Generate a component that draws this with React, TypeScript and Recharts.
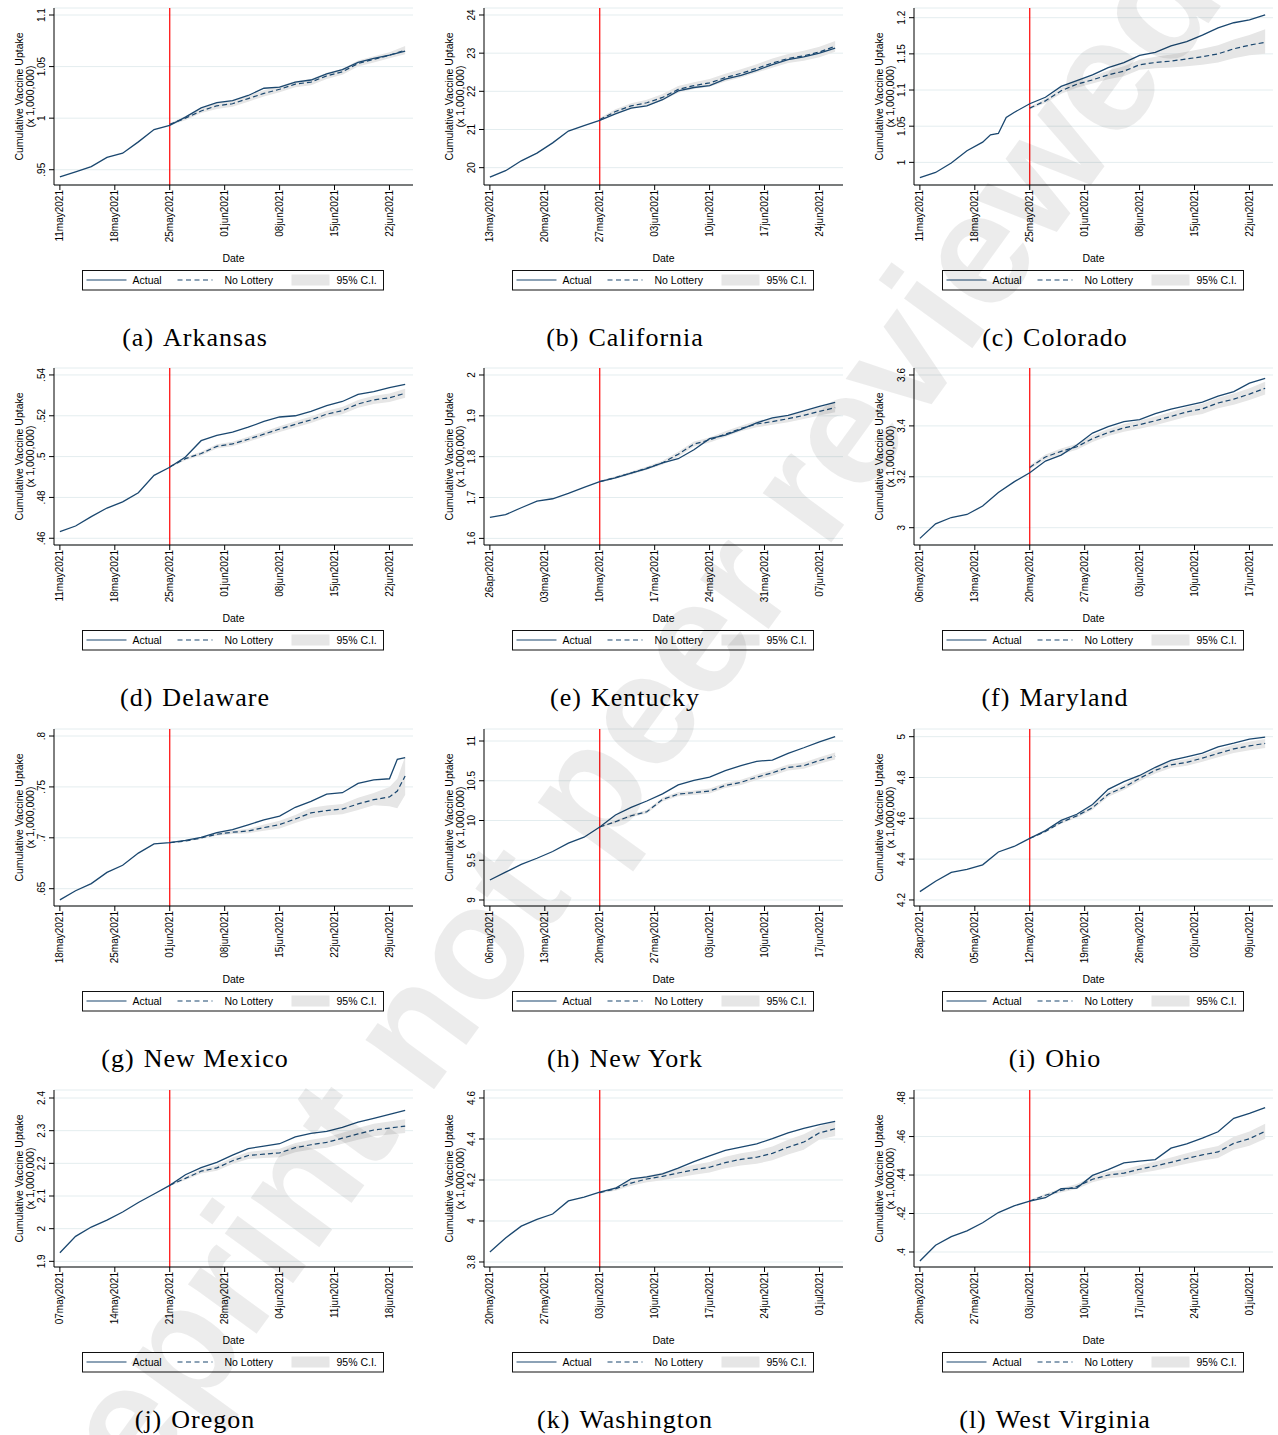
import React from 'react';
import {
  ComposedChart,
  Line,
  Area,
  XAxis,
  YAxis,
  CartesianGrid,
  ReferenceLine,
  Legend,
  Label,
} from 'recharts';

const SANS = '"Liberation Sans", Arial, Helvetica, sans-serif';
const SERIF = '"Liberation Serif", "Times New Roman", serif';
const NAVY = '#1a476f';
const CI_FILL = '#e6e6e6';
const GRID = '#e4edef';

// ---------- shared x grids (days since first date) ----------
const TICK_DAYS = [0, 7, 14, 21, 28, 35, 42];
const LOTTERY_DAY = 14;
const DAYS = [0, 2, 4, 6, 8, 10, 12, 14, 16, 18, 20, 22, 24, 26, 28, 30, 32, 34, 36, 38, 40, 42, 44];
const CF_DAYS = [14, 16, 18, 20, 22, 24, 26, 28, 30, 32, 34, 36, 38, 40, 42, 44];
const CO_DAYS = [0, 2, 4, 6, 8, 9, 10, 11, 12, 14, 16, 18, 20, 22, 24, 26, 28, 30, 32, 34, 36, 38, 40, 42, 44];
const NM_DAYS = [0, 2, 4, 6, 8, 10, 12, 14, 16, 18, 20, 22, 24, 26, 28, 30, 32, 34, 36, 38, 40, 42, 43, 44];
const NM_CF_DAYS = [14, 16, 18, 20, 22, 24, 26, 28, 30, 32, 34, 36, 38, 40, 42, 43, 44];
const LEGEND_LABELS = ['Actual', 'No Lottery', '95% C.I.'];

// ---------- (a) Arkansas ----------
const arkansasDates = ['11may2021', '18may2021', '25may2021', '01jun2021', '08jun2021', '15jun2021', '22jun2021'];
const arkansasActual = [0.943, 0.948, 0.953, 0.962, 0.966, 0.977, 0.989, 0.993, 1.001, 1.01, 1.015, 1.017, 1.022, 1.029, 1.03, 1.035, 1.037, 1.043, 1.047, 1.054, 1.058, 1.061, 1.065];
const arkansasNoLottery = [0.994, 1.0, 1.007, 1.012, 1.014, 1.019, 1.024, 1.028, 1.033, 1.035, 1.041, 1.045, 1.053, 1.057, 1.061, 1.066];
const arkansasCiLow = [0.993, 0.998, 1.005, 1.009, 1.011, 1.016, 1.021, 1.025, 1.03, 1.032, 1.038, 1.042, 1.05, 1.054, 1.058, 1.062];
const arkansasCiHigh = [0.995, 1.002, 1.009, 1.015, 1.017, 1.022, 1.027, 1.031, 1.036, 1.038, 1.044, 1.048, 1.056, 1.06, 1.064, 1.07];
const arkansasYTicks = [0.95, 1, 1.05, 1.1];

// ---------- (b) California ----------
const californiaDates = ['13may2021', '20may2021', '27may2021', '03jun2021', '10jun2021', '17jun2021', '24jun2021'];
const californiaActual = [19.75, 19.92, 20.18, 20.38, 20.65, 20.96, 21.1, 21.24, 21.41, 21.56, 21.62, 21.78, 22.01, 22.1, 22.15, 22.32, 22.42, 22.55, 22.7, 22.83, 22.9, 23.0, 23.13];
const californiaNoLottery = [21.26, 21.47, 21.62, 21.7, 21.84, 22.05, 22.15, 22.22, 22.36, 22.47, 22.6, 22.74, 22.86, 22.93, 23.03, 23.18];
const californiaCiLow = [21.22, 21.41, 21.55, 21.62, 21.75, 21.96, 22.06, 22.12, 22.26, 22.36, 22.49, 22.62, 22.74, 22.8, 22.89, 23.04];
const californiaCiHigh = [21.3, 21.53, 21.69, 21.78, 21.93, 22.14, 22.24, 22.32, 22.46, 22.58, 22.71, 22.86, 22.98, 23.06, 23.17, 23.32];
const californiaYTicks = [20, 21, 22, 23, 24];

// ---------- (c) Colorado ----------
const coloradoDates = ['11may2021', '18may2021', '25may2021', '01jun2021', '08jun2021', '15jun2021', '22jun2021'];
const coloradoActual = [0.979, 0.986, 0.999, 1.016, 1.028, 1.038, 1.04, 1.062, 1.069, 1.081, 1.09, 1.105, 1.113, 1.121, 1.131, 1.138, 1.148, 1.152, 1.161, 1.167, 1.176, 1.186, 1.193, 1.197, 1.204];
const coloradoNoLottery = [1.075, 1.085, 1.099, 1.108, 1.114, 1.121, 1.126, 1.135, 1.138, 1.14, 1.143, 1.146, 1.15, 1.157, 1.162, 1.166];
const coloradoCiLow = [1.073, 1.082, 1.095, 1.103, 1.109, 1.115, 1.119, 1.128, 1.13, 1.131, 1.133, 1.135, 1.138, 1.144, 1.148, 1.15];
const coloradoCiHigh = [1.077, 1.088, 1.103, 1.113, 1.119, 1.127, 1.133, 1.142, 1.146, 1.149, 1.153, 1.157, 1.162, 1.17, 1.176, 1.184];
const coloradoYTicks = [1, 1.05, 1.1, 1.15, 1.2];

// ---------- (d) Delaware ----------
const delawareDates = ['11may2021', '18may2021', '25may2021', '01jun2021', '08jun2021', '15jun2021', '22jun2021'];
const delawareActual = [0.4633, 0.466, 0.4706, 0.4748, 0.4778, 0.4823, 0.4908, 0.4948, 0.4998, 0.5078, 0.5104, 0.512, 0.5144, 0.5172, 0.5194, 0.52, 0.5222, 0.525, 0.527, 0.5305, 0.5318, 0.5338, 0.5354];
const delawareNoLottery = [0.495, 0.499, 0.5015, 0.505, 0.5062, 0.5085, 0.511, 0.5135, 0.5158, 0.518, 0.5208, 0.5225, 0.5258, 0.5278, 0.5288, 0.531];
const delawareCiLow = [0.4945, 0.4982, 0.5006, 0.504, 0.5051, 0.5073, 0.5097, 0.5121, 0.5143, 0.5164, 0.5191, 0.5207, 0.5239, 0.5258, 0.5267, 0.5288];
const delawareCiHigh = [0.4955, 0.4998, 0.5024, 0.506, 0.5073, 0.5097, 0.5123, 0.5149, 0.5173, 0.5196, 0.5225, 0.5243, 0.5277, 0.5298, 0.5309, 0.5332];
const delawareYTicks = [0.46, 0.48, 0.5, 0.52, 0.54];

// ---------- (e) Kentucky ----------
const kentuckyDates = ['26apr2021', '03may2021', '10may2021', '17may2021', '24may2021', '31may2021', '07jun2021'];
const kentuckyActual = [1.6515, 1.658, 1.675, 1.691, 1.697, 1.71, 1.725, 1.739, 1.748, 1.76, 1.771, 1.785, 1.795, 1.817, 1.844, 1.853, 1.867, 1.883, 1.895, 1.901, 1.912, 1.923, 1.933];
const kentuckyNoLottery = [1.739, 1.749, 1.76, 1.772, 1.785, 1.806, 1.831, 1.841, 1.855, 1.869, 1.88, 1.886, 1.893, 1.901, 1.911, 1.92];
const kentuckyCiLow = [1.737, 1.746, 1.756, 1.768, 1.78, 1.8, 1.825, 1.835, 1.848, 1.862, 1.872, 1.878, 1.884, 1.892, 1.901, 1.909];
const kentuckyCiHigh = [1.741, 1.752, 1.764, 1.776, 1.79, 1.812, 1.837, 1.847, 1.862, 1.876, 1.888, 1.894, 1.902, 1.91, 1.921, 1.931];
const kentuckyYTicks = [1.6, 1.7, 1.8, 1.9, 2];

// ---------- (f) Maryland ----------
const marylandDates = ['06may2021', '13may2021', '20may2021', '27may2021', '03jun2021', '10jun2021', '17jun2021'];
const marylandActual = [2.958, 3.015, 3.04, 3.052, 3.085, 3.138, 3.18, 3.216, 3.262, 3.285, 3.325, 3.372, 3.397, 3.417, 3.425, 3.448, 3.466, 3.48, 3.493, 3.517, 3.535, 3.568, 3.587];
const marylandNoLottery = [3.237, 3.278, 3.3, 3.318, 3.35, 3.374, 3.392, 3.405, 3.42, 3.437, 3.455, 3.467, 3.49, 3.505, 3.525, 3.548];
const marylandCiLow = [3.23, 3.268, 3.289, 3.306, 3.337, 3.36, 3.377, 3.389, 3.403, 3.419, 3.436, 3.447, 3.469, 3.483, 3.502, 3.523];
const marylandCiHigh = [3.244, 3.288, 3.311, 3.33, 3.363, 3.388, 3.407, 3.421, 3.437, 3.455, 3.474, 3.487, 3.511, 3.527, 3.548, 3.573];
const marylandYTicks = [3, 3.2, 3.4, 3.6];

// ---------- (g) New Mexico ----------
const newMexicoDates = ['18may2021', '25may2021', '01jun2021', '08jun2021', '15jun2021', '22jun2021', '29jun2021'];
const newMexicoActual = [0.639, 0.648, 0.655, 0.666, 0.673, 0.685, 0.694, 0.6952, 0.6975, 0.7005, 0.705, 0.708, 0.7128, 0.7175, 0.7214, 0.73, 0.7358, 0.743, 0.7443, 0.7535, 0.757, 0.758, 0.7771, 0.7787];
const newMexicoNoLottery = [0.6952, 0.6968, 0.6998, 0.7035, 0.7055, 0.7067, 0.71, 0.713, 0.7185, 0.7245, 0.7268, 0.7282, 0.7333, 0.7375, 0.7401, 0.746, 0.7607];
const newMexicoCiLow = [0.6948, 0.6961, 0.6988, 0.702, 0.7037, 0.7045, 0.707, 0.7092, 0.7145, 0.7195, 0.7218, 0.7232, 0.7273, 0.732, 0.731, 0.729, 0.742];
const newMexicoCiHigh = [0.6956, 0.6975, 0.7008, 0.705, 0.7073, 0.7089, 0.713, 0.7168, 0.7225, 0.7295, 0.7318, 0.7332, 0.7393, 0.744, 0.75, 0.758, 0.78];
const newMexicoYTicks = [0.65, 0.7, 0.75, 0.8];

// ---------- (h) New York ----------
const newYorkDates = ['06may2021', '13may2021', '20may2021', '27may2021', '03jun2021', '10jun2021', '17jun2021'];
const newYorkActual = [9.252, 9.35, 9.448, 9.525, 9.61, 9.715, 9.79, 9.918, 10.07, 10.165, 10.245, 10.335, 10.447, 10.505, 10.547, 10.628, 10.69, 10.745, 10.76, 10.845, 10.915, 10.99, 11.055];
const newYorkNoLottery = [9.918, 9.985, 10.06, 10.11, 10.265, 10.332, 10.35, 10.371, 10.44, 10.48, 10.545, 10.6, 10.668, 10.69, 10.755, 10.811];
const newYorkCiLow = [9.912, 9.97, 10.04, 10.088, 10.24, 10.305, 10.322, 10.341, 10.408, 10.447, 10.511, 10.564, 10.63, 10.65, 10.713, 10.767];
const newYorkCiHigh = [9.924, 10.0, 10.08, 10.132, 10.29, 10.359, 10.378, 10.401, 10.472, 10.513, 10.579, 10.636, 10.706, 10.73, 10.797, 10.855];
const newYorkYTicks = [9, 9.5, 10, 10.5, 11];

// ---------- (i) Ohio ----------
const ohioDates = ['28apr2021', '05may2021', '12may2021', '19may2021', '26may2021', '02jun2021', '09jun2021'];
const ohioActual = [4.241, 4.292, 4.335, 4.35, 4.372, 4.435, 4.462, 4.502, 4.54, 4.59, 4.62, 4.668, 4.742, 4.78, 4.81, 4.85, 4.884, 4.901, 4.919, 4.95, 4.968, 4.988, 4.998];
const ohioNoLottery = [4.502, 4.535, 4.58, 4.612, 4.652, 4.718, 4.752, 4.796, 4.835, 4.862, 4.874, 4.895, 4.918, 4.94, 4.955, 4.967];
const ohioCiLow = [4.5, 4.53, 4.573, 4.603, 4.642, 4.706, 4.739, 4.782, 4.82, 4.846, 4.857, 4.877, 4.899, 4.92, 4.934, 4.945];
const ohioCiHigh = [4.504, 4.54, 4.587, 4.621, 4.662, 4.73, 4.765, 4.81, 4.85, 4.878, 4.891, 4.913, 4.937, 4.96, 4.976, 4.989];
const ohioYTicks = [4.2, 4.4, 4.6, 4.8, 5];

// ---------- (j) Oregon ----------
const oregonDates = ['07may2021', '14may2021', '21may2021', '28may2021', '04jun2021', '11jun2021', '18jun2021'];
const oregonActual = [1.9265, 1.9765, 2.005, 2.026, 2.051, 2.08, 2.106, 2.1327, 2.165, 2.187, 2.203, 2.225, 2.245, 2.253, 2.26, 2.281, 2.292, 2.298, 2.31, 2.326, 2.338, 2.35, 2.362];
const oregonNoLottery = [2.133, 2.154, 2.176, 2.186, 2.208, 2.224, 2.228, 2.232, 2.248, 2.257, 2.264, 2.277, 2.29, 2.302, 2.308, 2.314];
const oregonCiLow = [2.131, 2.149, 2.169, 2.177, 2.198, 2.213, 2.216, 2.219, 2.234, 2.242, 2.248, 2.26, 2.272, 2.283, 2.288, 2.293];
const oregonCiHigh = [2.135, 2.159, 2.183, 2.195, 2.218, 2.235, 2.24, 2.245, 2.262, 2.272, 2.28, 2.294, 2.308, 2.321, 2.328, 2.335];
const oregonYTicks = [1.9, 2, 2.1, 2.2, 2.3, 2.4];

// ---------- (k) Washington ----------
const washingtonDates = ['20may2021', '27may2021', '03jun2021', '10jun2021', '17jun2021', '24jun2021', '01jul2021'];
const washingtonActual = [3.849, 3.917, 3.975, 4.008, 4.034, 4.098, 4.117, 4.141, 4.16, 4.205, 4.215, 4.23, 4.258, 4.29, 4.318, 4.344, 4.36, 4.376, 4.402, 4.43, 4.452, 4.47, 4.486];
const washingtonNoLottery = [4.138, 4.157, 4.185, 4.205, 4.218, 4.234, 4.25, 4.262, 4.285, 4.301, 4.311, 4.33, 4.36, 4.385, 4.43, 4.45];
const washingtonCiLow = [4.134, 4.148, 4.172, 4.189, 4.199, 4.212, 4.226, 4.236, 4.257, 4.271, 4.279, 4.296, 4.324, 4.347, 4.398, 4.415];
const washingtonCiHigh = [4.142, 4.166, 4.198, 4.221, 4.237, 4.256, 4.274, 4.288, 4.313, 4.331, 4.343, 4.364, 4.396, 4.423, 4.462, 4.485];
const washingtonYTicks = [3.8, 4, 4.2, 4.4, 4.6];

// ---------- (l) West Virginia ----------
const westVirginiaDates = ['20may2021', '27may2021', '03jun2021', '10jun2021', '17jun2021', '24jun2021', '01jul2021'];
const westVirginiaActual = [0.3953, 0.4035, 0.408, 0.411, 0.4152, 0.4205, 0.424, 0.4265, 0.4282, 0.4329, 0.4332, 0.4398, 0.4428, 0.4463, 0.4472, 0.448, 0.454, 0.4562, 0.4592, 0.4625, 0.4695, 0.472, 0.475];
const westVirginiaNoLottery = [0.4265, 0.4295, 0.432, 0.434, 0.4378, 0.44, 0.441, 0.443, 0.4447, 0.4466, 0.4486, 0.4505, 0.452, 0.4565, 0.4589, 0.4627];
const westVirginiaCiLow = [0.426, 0.4287, 0.4309, 0.4327, 0.4363, 0.4383, 0.4391, 0.4409, 0.4424, 0.4441, 0.4459, 0.4476, 0.4489, 0.4531, 0.4552, 0.4588];
const westVirginiaCiHigh = [0.427, 0.4303, 0.4331, 0.4353, 0.4393, 0.4417, 0.4429, 0.4451, 0.447, 0.4491, 0.4513, 0.4534, 0.4551, 0.4599, 0.4626, 0.4666];
const westVirginiaYTicks = [0.4, 0.42, 0.44, 0.46, 0.48];

type Panel = {
  letter: string;
  name: string;
  dates: string[];
  days: number[];
  actual: number[];
  cfDays: number[];
  noLottery: number[];
  ciLow: number[];
  ciHigh: number[];
  yTicks: number[];
  yDomain: [number, number];
};

const PANELS: Panel[] = [
  { letter: '(a)', name: 'Arkansas', dates: arkansasDates, days: DAYS, actual: arkansasActual, cfDays: CF_DAYS, noLottery: arkansasNoLottery, ciLow: arkansasCiLow, ciHigh: arkansasCiHigh, yTicks: arkansasYTicks, yDomain: [0.9352, 1.1068] },
  { letter: '(b)', name: 'California', dates: californiaDates, days: DAYS, actual: californiaActual, cfDays: CF_DAYS, noLottery: californiaNoLottery, ciLow: californiaCiLow, ciHigh: californiaCiHigh, yTicks: californiaYTicks, yDomain: [19.546, 24.183] },
  { letter: '(c)', name: 'Colorado', dates: coloradoDates, days: CO_DAYS, actual: coloradoActual, cfDays: CF_DAYS, noLottery: coloradoNoLottery, ciLow: coloradoCiLow, ciHigh: coloradoCiHigh, yTicks: coloradoYTicks, yDomain: [0.9687, 1.2134] },
  { letter: '(d)', name: 'Delaware', dates: delawareDates, days: DAYS, actual: delawareActual, cfDays: CF_DAYS, noLottery: delawareNoLottery, ciLow: delawareCiLow, ciHigh: delawareCiHigh, yTicks: delawareYTicks, yDomain: [0.4567, 0.5434] },
  { letter: '(e)', name: 'Kentucky', dates: kentuckyDates, days: DAYS, actual: kentuckyActual, cfDays: CF_DAYS, noLottery: kentuckyNoLottery, ciLow: kentuckyCiLow, ciHigh: kentuckyCiHigh, yTicks: kentuckyYTicks, yDomain: [1.5838, 2.0171] },
  { letter: '(f)', name: 'Maryland', dates: marylandDates, days: DAYS, actual: marylandActual, cfDays: CF_DAYS, noLottery: marylandNoLottery, ciLow: marylandCiLow, ciHigh: marylandCiHigh, yTicks: marylandYTicks, yDomain: [2.932, 3.6275] },
  { letter: '(g)', name: 'New Mexico', dates: newMexicoDates, days: NM_DAYS, actual: newMexicoActual, cfDays: NM_CF_DAYS, noLottery: newMexicoNoLottery, ciLow: newMexicoCiLow, ciHigh: newMexicoCiHigh, yTicks: newMexicoYTicks, yDomain: [0.633, 0.8069] },
  { letter: '(h)', name: 'New York', dates: newYorkDates, days: DAYS, actual: newYorkActual, cfDays: CF_DAYS, noLottery: newYorkNoLottery, ciLow: newYorkCiLow, ciHigh: newYorkCiHigh, yTicks: newYorkYTicks, yDomain: [8.9245, 11.151] },
  { letter: '(i)', name: 'Ohio', dates: ohioDates, days: DAYS, actual: ohioActual, cfDays: CF_DAYS, noLottery: ohioNoLottery, ciLow: ohioCiLow, ciHigh: ohioCiHigh, yTicks: ohioYTicks, yDomain: [4.1704, 5.0376] },
  { letter: '(j)', name: 'Oregon', dates: oregonDates, days: DAYS, actual: oregonActual, cfDays: CF_DAYS, noLottery: oregonNoLottery, ciLow: oregonCiLow, ciHigh: oregonCiHigh, yTicks: oregonYTicks, yDomain: [1.8827, 2.4245] },
  { letter: '(k)', name: 'Washington', dates: washingtonDates, days: DAYS, actual: washingtonActual, cfDays: CF_DAYS, noLottery: washingtonNoLottery, ciLow: washingtonCiLow, ciHigh: washingtonCiHigh, yTicks: washingtonYTicks, yDomain: [3.7756, 4.639] },
  { letter: '(l)', name: 'West Virginia', dates: westVirginiaDates, days: DAYS, actual: westVirginiaActual, cfDays: CF_DAYS, noLottery: westVirginiaNoLottery, ciLow: westVirginiaCiLow, ciHigh: westVirginiaCiHigh, yTicks: westVirginiaYTicks, yDomain: [0.3922, 0.4842] },
];

const COL_X = [0, 430, 860];
const ROW_Y = [0, 360, 721, 1082];

function buildRows(p: Panel) {
  const map = new Map<number, any>();
  p.days.forEach((d, i) => map.set(d, { day: d, actual: p.actual[i] }));
  p.cfDays.forEach((d, i) => {
    const r = map.get(d) ?? { day: d };
    r.noLottery = p.noLottery[i];
    r.ci = [p.ciLow[i], p.ciHigh[i]];
    map.set(d, r);
  });
  return Array.from(map.values()).sort((a, b) => a.day - b.day);
}

const fmtY = (v: number) => {
  const s = String(v);
  return s.startsWith('0.') ? s.slice(1) : s;
};

const makeXTick = (labels: string[]) => (props: any) => {
  const { x, y, payload } = props;
  const idx = TICK_DAYS.indexOf(payload.value);
  return (
    <text
      x={x}
      y={y}
      transform={`rotate(-90 ${x} ${y})`}
      textAnchor="end"
      dy="0.36em"
      fontSize={10}
      fontFamily={SANS}
      fill="#000"
    >
      {labels[idx]}
    </text>
  );
};

const YTick = (props: any) => {
  const { x, y, payload } = props;
  return (
    <text
      x={x}
      y={y}
      transform={`rotate(-90 ${x} ${y})`}
      textAnchor="middle"
      fontSize={10}
      fontFamily={SANS}
      fill="#000"
    >
      {fmtY(payload.value)}
    </text>
  );
};

const YTitle = () => (
  <g>
    <text transform="translate(22.5,96.5) rotate(-90)" textAnchor="middle" fontSize={10.5} fontFamily={SANS} fill="#000">
      Cumulative Vaccine Uptake
    </text>
    <text transform="translate(33.5,96.5) rotate(-90)" textAnchor="middle" fontSize={10.5} fontFamily={SANS} fill="#000">
      (x 1,000,000)
    </text>
  </g>
);

const DateTitle = () => (
  <text x={233.5} y={261.5} textAnchor="middle" fontSize={10.5} fontFamily={SANS} fill="#000">
    Date
  </text>
);

const LegendBox = () => (
  <svg width={303} height={21} style={{ display: 'block', overflow: 'visible' }}>
    <rect x={0.5} y={0.5} width={301} height={19.5} fill="none" stroke="#111" strokeWidth={1} />
    <line x1={4.5} x2={44.5} y1={10} y2={10} stroke={NAVY} strokeWidth={1.2} />
    <text x={50.5} y={13.8} fontSize={10.5} fontFamily={SANS} fill="#000">{LEGEND_LABELS[0]}</text>
    <line x1={95.5} x2={130.5} y1={10} y2={10} stroke={NAVY} strokeWidth={1.2} strokeDasharray="5 3.5" />
    <text x={142.5} y={13.8} fontSize={10.5} fontFamily={SANS} fill="#000">{LEGEND_LABELS[1]}</text>
    <rect x={209.5} y={4.5} width={38} height={11} fill={CI_FILL} />
    <text x={254.5} y={13.8} fontSize={10.5} fontFamily={SANS} fill="#000">{LEGEND_LABELS[2]}</text>
  </svg>
);

function PanelChart({ p }: { p: Panel }) {
  const rows = buildRows(p);
  return (
    <ComposedChart width={430} height={300} data={rows} margin={{ top: 8, right: 17, bottom: 0, left: 0 }}>
      <CartesianGrid vertical={false} stroke={GRID} strokeWidth={1} />
      <XAxis
        type="number"
        dataKey="day"
        domain={[-0.75, 45]}
        ticks={TICK_DAYS}
        interval={0}
        allowDataOverflow
        height={115}
        axisLine={{ stroke: '#000', strokeWidth: 1 }}
        tickLine={{ stroke: '#000', strokeWidth: 1 }}
        tickSize={5}
        tickMargin={0}
        tick={makeXTick(p.dates)}
        label={<Label content={<DateTitle />} />}
      />
      <YAxis
        type="number"
        domain={p.yDomain}
        ticks={p.yTicks}
        interval={0}
        allowDataOverflow
        width={54}
        axisLine={{ stroke: '#000', strokeWidth: 1 }}
        tickLine={{ stroke: '#000', strokeWidth: 1 }}
        tickSize={5}
        tickMargin={4}
        tick={YTick}
        label={<Label content={<YTitle />} />}
      />
      <Area
        dataKey="ci"
        stroke="none"
        fill={CI_FILL}
        fillOpacity={1}
        connectNulls
        isAnimationActive={false}
        legendType="rect"
        name={LEGEND_LABELS[2]}
      />
      <ReferenceLine x={LOTTERY_DAY} stroke="#ff0000" strokeWidth={1.2} />
      <Line
        type="linear"
        dataKey="noLottery"
        stroke={NAVY}
        strokeWidth={1.2}
        strokeDasharray="5 3"
        dot={false}
        connectNulls
        isAnimationActive={false}
        name={LEGEND_LABELS[1]}
      />
      <Line
        type="linear"
        dataKey="actual"
        stroke={NAVY}
        strokeWidth={1.3}
        dot={false}
        connectNulls
        isAnimationActive={false}
        name={LEGEND_LABELS[0]}
      />
      <Legend
        layout="horizontal"
        verticalAlign="middle"
        align="center"
        content={<LegendBox />}
        wrapperStyle={{ left: 82, top: 270, width: 303, height: 21, margin: 0, padding: 0 }}
      />
    </ComposedChart>
  );
}

export default function App() {
  return (
    <div
      style={{
        position: 'absolute',
        left: 0,
        top: 0,
        width: 1278,
        height: 1435,
        overflow: 'hidden',
        background: '#fff',
      }}
    >
      {PANELS.map((p, i) => (
        <div
          key={p.name}
          style={{ position: 'absolute', left: COL_X[i % 3], top: ROW_Y[Math.floor(i / 3)], width: 430, height: 300 }}
        >
          <PanelChart p={p} />
        </div>
      ))}
      <svg
        width={1278}
        height={1435}
        style={{ position: 'absolute', left: 0, top: 0, pointerEvents: 'none' }}
      >
        {PANELS.map((p, i) => (
          <text
            key={p.name}
            x={COL_X[i % 3] + 195}
            y={ROW_Y[Math.floor(i / 3)] + 346}
            textAnchor="middle"
            fontFamily={SERIF}
            fontSize={26}
            letterSpacing={1}
            fill="#000"
          >
            {p.letter}
            <tspan dx={9}>{p.name}</tspan>
          </text>
        ))}
        <text
          x={634}
          y={814}
          transform="rotate(-54 634 814)"
          textAnchor="middle"
          fontFamily={SANS}
          fontWeight="bold"
          fontSize={160}
          fill="#000"
          fillOpacity={0.075}
        >
          Preprint not peer reviewed
        </text>
      </svg>
    </div>
  );
}
